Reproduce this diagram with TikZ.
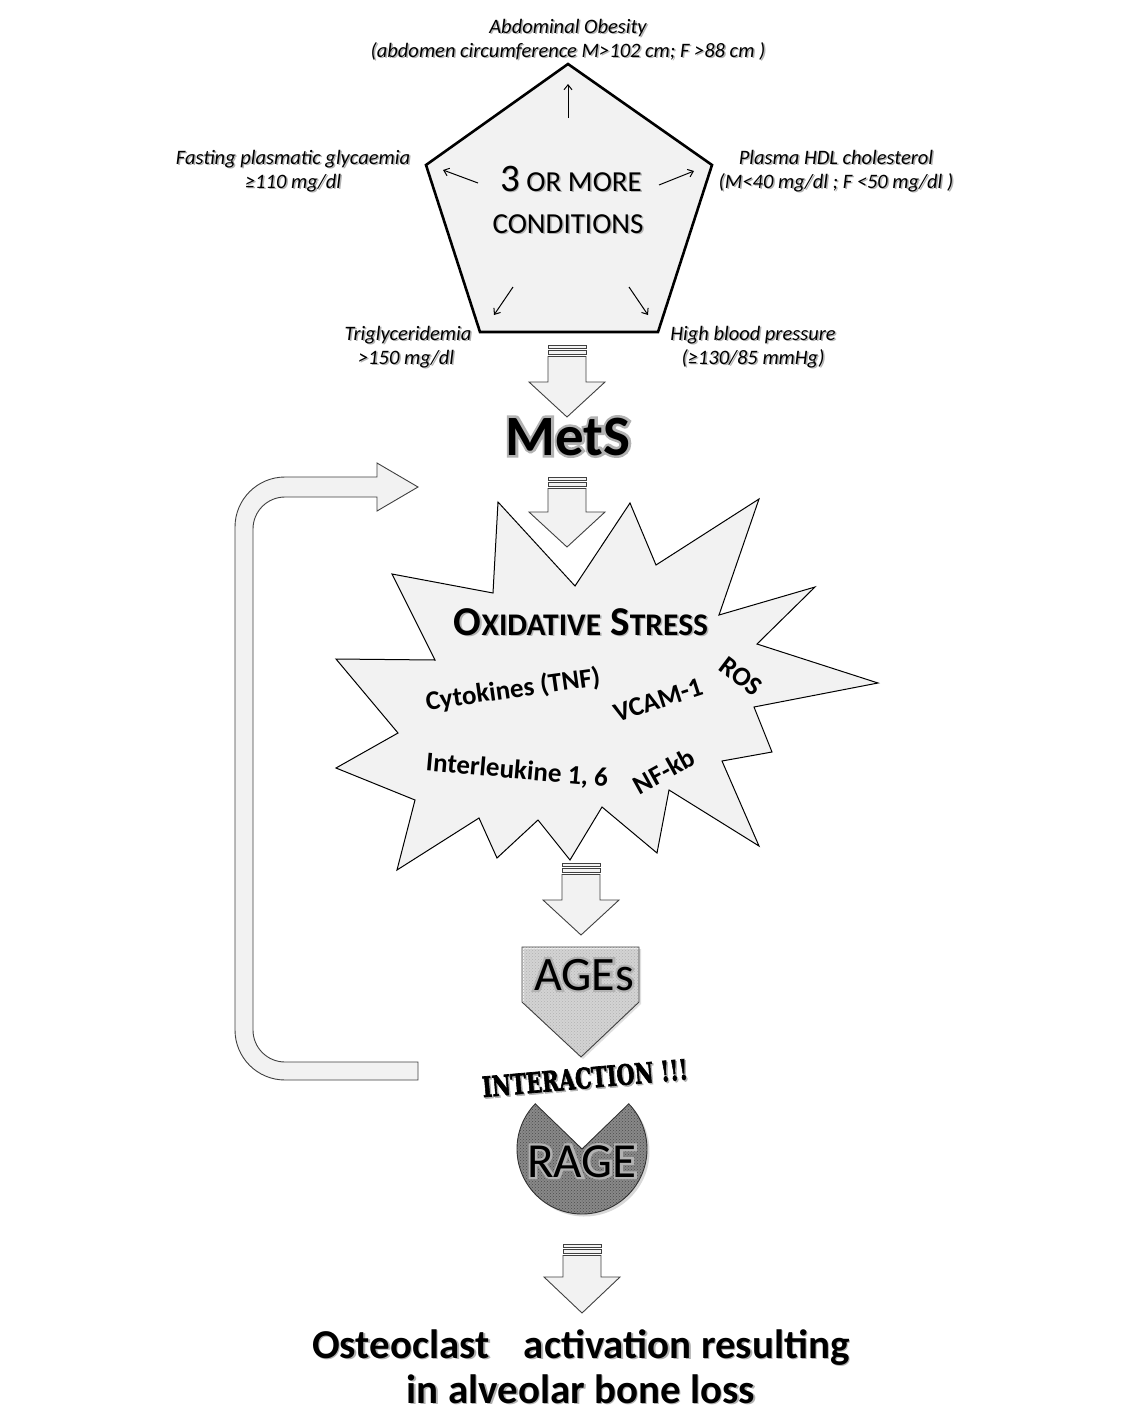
\documentclass[tikz,border=0pt]{standalone}
\usepackage{fontspec}
\setmainfont{Carlito}
\newfontfamily\stencilfont[BoldFeatures={FakeBold=2.5}]{DejaVu Serif}
\newfontfamily\glowfont[FakeBold=9,BoldFeatures={FakeBold=9}]{Carlito}
\usetikzlibrary{arrows.meta,patterns,shadows,calc}
\definecolor{lg}{HTML}{F2F2F2}
\definecolor{edge}{HTML}{404040}
\newcommand\fs[2]{\fontsize{#1}{#2}\selectfont}
% text with a soft gray shadow
\newcommand\shtext[5][]{%
  \node[anchor=base,inner sep=0pt,text=black!30,#1] at (#3+1.5,#4+1.5) {#5};
  \node[anchor=base,inner sep=0pt,#1] (#2) at (#3,#4) {#5};}
% text with a gray outline (stroked copy underneath)
\newcommand\glowtext[5][]{%
  \node[anchor=base,inner sep=0pt,text=gray!60,#1] at (#3,#4) {\glowfont#5};
  \node[anchor=base,inner sep=0pt,#1] (#2) at (#3,#4) {#5};}
% striped block arrow pointing down: cx, top, head start, tip
\newcommand\blockarrow[4]{%
  \draw[blk] (#1-19,#2) rectangle (#1+19,#2+3.5);
  \draw[blk] (#1-19,#2+5.5) rectangle (#1+19,#2+9.5);
  \draw[blk] (#1-19,#2+11.5) -- (#1-19,#3) -- (#1-38,#3) -- (#1,#4) -- (#1+38,#3) -- (#1+19,#3) -- (#1+19,#2+11.5) -- cycle;}
\begin{document}
\begin{tikzpicture}[x=1pt,y=-1pt,
  blk/.style={fill=lg,draw=edge,line width=0.9pt},
  lab/.style={font=\fs{20.5}{24}\itshape},
  inarrow/.style={line width=1pt,-{Straight Barb[length=5pt,width=8pt]}},
  star/.style={font=\fs{27}{30}\bfseries,anchor=center,inner sep=0pt}]
\fill[white] (0,0) rectangle (1140,1411);
\useasboundingbox (0,0) rectangle (1140,1411);

% ---------- pentagon ----------
\draw[fill=lg,line width=2.6pt,line join=miter] (568,64) -- (712,165) -- (658,332) -- (480,332) -- (426,165) -- cycle;
\coordinate (c0) at (568,118); \coordinate (t0) at (568,84);
\coordinate (c1) at (478,183); \coordinate (t1) at (443,170);
\coordinate (c2) at (659,185); \coordinate (t2) at (694,171);
\coordinate (c3) at (513,287); \coordinate (t3) at (494,315);
\coordinate (c4) at (629,287); \coordinate (t4) at (648,315);
\draw[inarrow] (c0) -- (t0);
\draw[inarrow] (c1) -- (t1);
\draw[inarrow] (c2) -- (t2);
\draw[inarrow] (c3) -- (t3);
\draw[inarrow] (c4) -- (t4);
\shtext[font=\fs{29}{30}]{cond1}{571}{191}{{\fs{39}{40}3} OR MORE}
\shtext[font=\fs{29}{30}]{cond2}{568}{233}{CONDITIONS}

\shtext[lab]{ao1}{568}{33}{Abdominal Obesity}
\shtext[lab]{ao2}{568}{57}{(abdomen circumference M>102 cm; F >88 cm )}
\shtext[lab]{fg1}{293}{164}{Fasting plasmatic glycaemia}
\shtext[lab]{fg2}{293}{188}{≥110 mg/dl}
\shtext[lab]{hd1}{836}{164}{Plasma HDL cholesterol}
\shtext[lab]{hd2}{836}{188}{(M<40 mg/dl ; F <50 mg/dl )}
\shtext[lab]{tg1}{408}{340}{Triglyceridemia}
\shtext[lab]{tg2}{406}{364}{>150 mg/dl}
\shtext[lab]{bp1}{753}{340}{High blood pressure}
\shtext[lab]{bp2}{753}{364}{(≥130/85 mmHg)}

% ---------- arrows & MetS ----------
\blockarrow{567}{345}{382}{417}
\glowtext[font=\fs{57}{60}\bfseries]{mets}{568}{455}{MetS}
\blockarrow{567}{477}{512}{547}

% ---------- feedback arrow ----------
\draw[blk] (418,1080) -- (285,1080) arc[start angle=90,end angle=180,radius=50]
  -- (235,527) arc[start angle=180,end angle=270,radius=50]
  -- (377,477) -- (377,463) -- (418,487) -- (377,511) -- (377,497)
  -- (285,497) arc[start angle=270,end angle=180,radius=32]
  -- (253,1030) arc[start angle=180,end angle=90,radius=32]
  -- (418,1062) -- cycle;

% ---------- oxidative stress star ----------
\draw[fill=lg,draw=black,line width=1pt,line join=miter]
  (392,574) -- (493,593) -- (498,502) -- (575,586) -- (630,503) -- (656,565) -- (759,499)
  -- (719,615) -- (815,587) -- (757,644) -- (878,683) -- (754,707) -- (772,752) -- (722,761)
  -- (759,846) -- (669,790) -- (657,853) -- (602,807) -- (570,860) -- (538,820) -- (497,858)
  -- (479,818) -- (397,870) -- (415,800) -- (336,768) -- (398,733) -- (336,659) -- (435,660) -- cycle;
\shtext[font=\fs{41}{44}\bfseries]{ox}{581}{635}{O{\fs{31.5}{33}XIDATIVE} S{\fs{31.5}{33}TRESS}}
\node[star,rotate=8] (cyt) at (513,690) {Cytokines (TNF)};
\node[star,rotate=18] (vcam) at (658,700) {VCAM-1};
\node[star,rotate=-37] (ros) at (741,676) {ROS};
\node[star,rotate=-5] (il) at (517,771) {Interleukine 1, 6};
\node[star,rotate=29] (nfkb) at (664,771) {NF-kb};

% ---------- AGEs ----------
\blockarrow{581}{863}{900}{935}
\draw[preaction={fill=gray!12},pattern=crosshatch dots,pattern color=gray!60,draw=edge,line width=0.9pt,
  drop shadow={opacity=0.25,shadow xshift=2pt,shadow yshift=-2pt}]
  (522,947) -- (639,947) -- (639,1002) -- (581,1057) -- (522,1002) -- cycle;
\glowtext[font=\fs{48}{50}]{ages}{584}{990}{AGEs}

% ---------- interaction & RAGE ----------
\node[rotate=5,inner sep=0pt,text=black!30,font=\stencilfont\bfseries\fs{28}{30}] at (586.5,1079.5) {\scalebox{0.74}[1]{INTERACTION !!!}};
\node[rotate=5,inner sep=0pt,font=\stencilfont\bfseries\fs{28}{30}] (inter) at (585,1078) {\scalebox{0.74}[1]{INTERACTION !!!}};
\draw[preaction={fill=gray!90},pattern=crosshatch dots,pattern color=black!70,draw=black!80,line width=0.9pt,
  drop shadow={opacity=0.3,shadow xshift=2.5pt,shadow yshift=-2.5pt}]
  (582,1149) -- ($(582,1149)+(-44:65)$) arc[start angle=-44,end angle=224,radius=65] -- cycle;
\glowtext[font=\fs{49}{50}]{rage}{582}{1177}{RAGE}

% ---------- result ----------
\blockarrow{582}{1244}{1277}{1313}
\shtext[font=\fs{41}{44}\bfseries]{res1}{581}{1358}{Osteoclast\hspace{0.6em} activation resulting}
\shtext[font=\fs{41}{44}\bfseries]{res2}{581}{1403}{in alveolar bone loss}
\end{tikzpicture}
\end{document}
